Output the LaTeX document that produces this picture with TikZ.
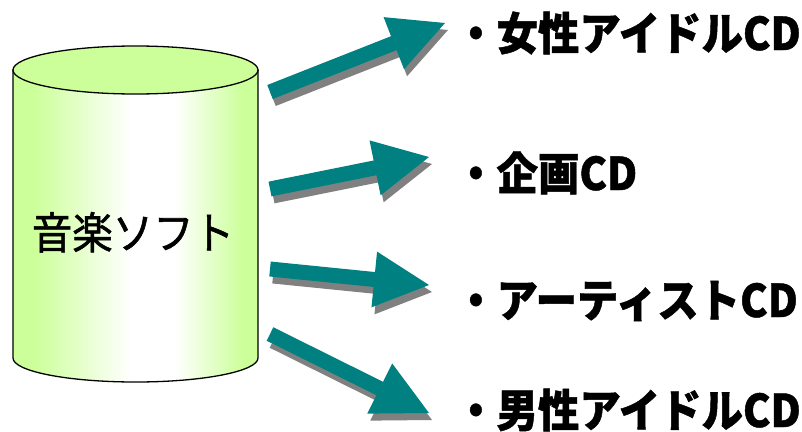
\documentclass[tikz,border=0pt]{standalone}
\usepackage{fontspec}
\newfontfamily\jpfont[FakeStretch=0.92]{Noto Sans CJK JP}
\usetikzlibrary{calc}

\definecolor{cylgreen}{RGB}{204,255,153}
\definecolor{arrteal}{RGB}{0,128,128}
\definecolor{arrshadow}{RGB}{128,128,128}
\pgfdeclarehorizontalshading{cylbody}{100bp}{color(0bp)=(cylgreen); color(29bp)=(cylgreen); color(49bp)=(white); color(58bp)=(white); color(72bp)=(cylgreen); color(100bp)=(cylgreen)}

\tikzset{
    cdlabel/.style={font=\jpfont\bfseries\addfontfeature{FakeBold=1}\fontsize{45}{50}\selectfont, inner sep=0pt, anchor=base west},
    softlabel/.style={font=\jpfont\addfontfeature{FakeBold=1.2}\fontsize{44}{50}\selectfont, inner sep=0pt, anchor=base},
    arrpath/.style={insert path={
        ($(s#1)!7.5pt!90:(t#1)$) -- ($(b)!7.5pt!90:(t#1)$) -- ($(b)!28pt!90:(t#1)$) -- (t#1)
        -- ($(b)!28pt!-90:(t#1)$) -- ($(b)!7.5pt!-90:(t#1)$) -- ($(s#1)!7.5pt!-90:(t#1)$) -- cycle}}
}

\begin{document}
\begin{tikzpicture}[x=1pt,y=-1pt]
    \useasboundingbox (0,0) rectangle (802,431);
    % cylinder
    \shade[draw, line width=1.3pt, shading=cylbody] (13,70) -- (13,358)
        arc[start angle=180, end angle=360, x radius=122.5pt, y radius=24pt] -- (258,70) -- cycle;
    \filldraw[fill=cylgreen, line width=1.3pt] (135.5,70) ellipse[x radius=122.5pt, y radius=24pt];
    \node[softlabel] (soft) at (133,249) {音楽ソフト};

    % arrow ends
    \coordinate (s1) at (270,92);  \coordinate (t1) at (445,23);
    \coordinate (s2) at (270,189); \coordinate (t2) at (429,157);
    \coordinate (s3) at (270,269); \coordinate (t3) at (429,285);
    \coordinate (s4) at (270,334); \coordinate (t4) at (429,413);
    \foreach \i in {1,...,4}{
        \coordinate (b) at ($(t\i)!55pt!(s\i)$);
        \fill[arrshadow, transform canvas={xshift=3pt, yshift=-7pt}, arrpath=\i];
        \fill[arrteal, arrpath=\i];
    }

    % labels
    \node[cdlabel] (idolf) at (455,50) {・女性アイドルCD};
    \node[cdlabel] (kikaku) at (455,190) {・企画CD};
    \node[cdlabel] (artist) at (455,317) {・アーティストCD};
    \node[cdlabel] (idolm) at (455,427) {・男性アイドルCD};
\end{tikzpicture}
\end{document}
